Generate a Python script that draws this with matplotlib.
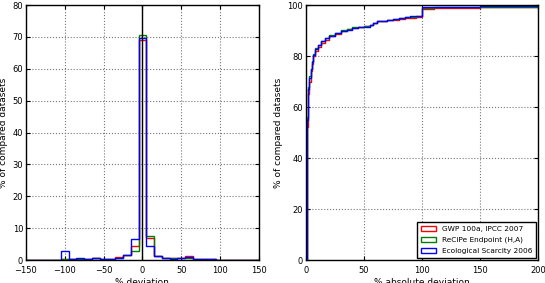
import numpy as np
import matplotlib.pyplot as plt
from matplotlib.patches import Patch

labels = ['GWP 100a, IPCC 2007', 'ReCiPe Endpoint (H,A)', 'Ecological Scarcity 2006']
colors = ['red', 'green', 'blue']

# histogram of % deviation, bins of width 10 centred on multiples of 10
centres = np.arange(-150, 151, 10)
hist_gwp = [0.05, 0.05, 0.05, 0.05, 0.05, 0.2, 0.2, 0.3, 0.2, 0.5, 0.2, 0.3, 1.0, 1.5, 4.5,
            69.0, 7.0, 1.2, 0.6, 0.5, 0.5, 1.2, 0.3, 0.4, 0.3, 0.1, 0.05, 0.05, 0.05, 0.05, 0.05]
hist_recipe = [0.05, 0.05, 0.05, 0.05, 0.05, 0.2, 0.2, 0.4, 0.2, 0.6, 0.2, 0.3, 0.8, 1.5, 3.0,
               70.5, 7.5, 1.2, 0.5, 0.5, 0.8, 0.7, 0.3, 0.4, 0.2, 0.1, 0.05, 0.05, 0.05, 0.05, 0.05]
hist_eco = [0.05, 0.05, 0.05, 0.05, 0.05, 3.0, 0.2, 0.5, 0.2, 0.8, 0.2, 0.3, 0.8, 1.5, 6.7,
            69.8, 4.3, 1.2, 0.5, 0.4, 0.5, 1.1, 0.3, 0.4, 0.2, 0.1, 0.05, 0.05, 0.05, 0.05, 0.05]

# cumulative share of datasets vs. % absolute deviation
abs_dev = [0, 0.5, 1, 1.5, 2, 3, 4, 5, 6, 8, 10, 13, 16, 20, 25, 30, 35, 40, 45, 50, 55,
           58, 61, 65, 70, 75, 80, 85, 90, 95, 99.9, 100, 110, 130, 150, 175, 200]
cum_gwp = [0, 38, 52, 60, 65, 70, 74, 77, 80, 82, 83.5, 85.3, 86.5, 87.8, 88.8, 89.8, 90.5,
           91.0, 91.5, 91.8, 92.2, 93.0, 93.6, 93.8, 94.0, 94.3, 94.6, 94.8, 95.0, 95.3, 95.5,
           98.5, 98.7, 98.9, 99.1, 99.2, 99.3]
cum_recipe = [0, 40, 56, 63, 68, 72, 75, 78, 81, 83, 84.5, 86, 87.2, 88.3, 89.2, 90.2, 90.8,
              91.3, 91.6, 91.9, 92.2, 93.0, 93.7, 93.9, 94.1, 94.4, 94.8, 95.2, 95.4, 95.7, 96.0,
              99.0, 99.1, 99.2, 99.3, 99.4, 99.5]
cum_eco = [0, 40, 55, 62, 67, 71.5, 75, 77.5, 80.5, 82.8, 84.3, 85.8, 87, 88, 89, 89.8, 90.4,
           90.9, 91.3, 91.6, 92.1, 93.0, 93.6, 93.9, 94.1, 94.5, 95.0, 95.5, 95.7, 95.9, 96.1,
           99.2, 99.3, 99.4, 99.5, 99.6, 99.6]

plt.rcParams['font.family'] = 'DejaVu Sans'

fig = plt.figure(figsize=(5.45, 2.83), dpi=100)
ax1 = fig.add_axes([0.0477, 0.081, 0.4273, 0.901])
ax2 = fig.add_axes([0.5615, 0.081, 0.4257, 0.901])

edges = np.append(centres - 5, centres[-1] + 5)
for vals, c in zip([hist_gwp, hist_recipe, hist_eco], colors):
    ax1.hist(centres, bins=edges, weights=vals, histtype='step', color=c, linewidth=1.0)
ax1.axvline(0, color='black', linewidth=1.0)
ax1.set_xlim(-150, 150)
ax1.set_ylim(0, 80)
ax1.set_xticks([-150, -100, -50, 0, 50, 100, 150])
ax1.set_xticklabels(['\u2212150', '\u2212100', '\u221250', '0', '50', '100', '150'])
ax1.set_xlabel('% deviation', fontsize=6.5, labelpad=2)
ax1.set_ylabel('% of compared datasets', fontsize=6.5, labelpad=3)

for vals, c in zip([cum_gwp, cum_recipe, cum_eco], colors):
    ax2.plot(abs_dev, vals, color=c, linewidth=1.0, drawstyle='steps-post')
ax2.set_xlim(0, 200)
ax2.set_ylim(0, 100)
ax2.set_xticks([0, 50, 100, 150, 200])
ax2.set_yticks([0, 20, 40, 60, 80, 100])
ax2.set_xlabel('% absolute deviation', fontsize=6.5, labelpad=2)
ax2.set_ylabel('% of compared datasets', fontsize=6.5, labelpad=3)
handles = [Patch(facecolor='none', edgecolor=c, label=l) for c, l in zip(colors, labels)]
leg = ax2.legend(handles=handles, loc='lower right', fontsize=5.3, fancybox=False,
                 framealpha=1, borderaxespad=0.3, handlelength=2.0, labelspacing=0.65,
                 borderpad=0.5)
leg.get_frame().set_edgecolor('black')

for ax in (ax1, ax2):
    ax.grid(True, linestyle=':', color='#777777', linewidth=0.8)
    ax.tick_params(direction='in', length=3, top=True, right=True, labelsize=6)
    ax.tick_params(axis='x', pad=4.5)
    ax.tick_params(axis='y', pad=2)
    for s in ax.spines.values():
        s.set_linewidth(1.0)

fig.savefig('out.png', dpi=100)
